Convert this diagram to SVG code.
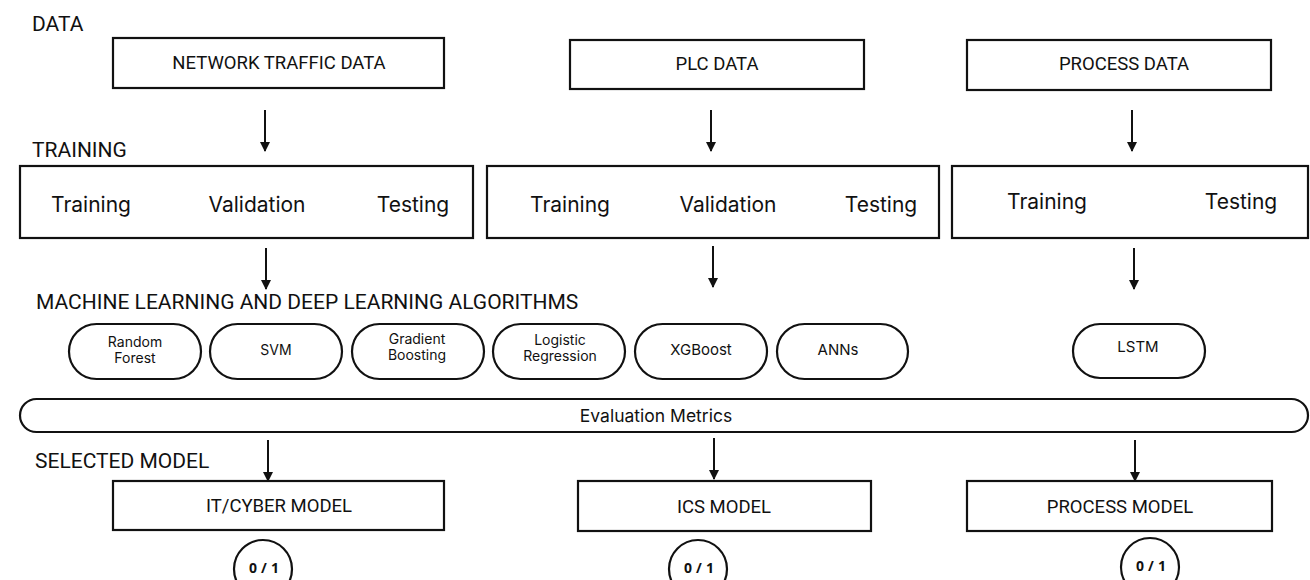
<svg xmlns="http://www.w3.org/2000/svg" width="1310" height="580" viewBox="0 0 1310 580">
<defs>
<marker id="ah" viewBox="0 0 10 10" refX="9" refY="5" markerWidth="10" markerHeight="10" markerUnits="userSpaceOnUse" orient="auto">
<path d="M0,0 L10,5 L0,10 Z" fill="#111"/>
</marker>
</defs>
<style>
.box{fill:#fff;stroke:#111;stroke-width:2.2}
.pill{fill:#fff;stroke:#111;stroke-width:2.2}
.hd{font-family:Roboto,"Liberation Sans",sans-serif;font-size:21px;fill:#111}
.bt{font-family:Roboto,"Liberation Sans",sans-serif;font-size:18.5px;fill:#111;text-anchor:middle}
.tt{font-family:Inter,"Noto Sans",sans-serif;font-size:21px;fill:#111;text-anchor:middle}
.pt{font-family:Inter,"Noto Sans",sans-serif;font-size:14px;fill:#111;text-anchor:middle}
.ct{font-family:"Noto Sans",sans-serif;font-size:14px;font-weight:bold;fill:#111;text-anchor:middle;letter-spacing:4px}
.arr{stroke:#111;stroke-width:2;fill:none;marker-end:url(#ah)}
</style>
<rect width="1310" height="580" fill="#fff"/>
<text class="hd" x="32" y="31">DATA</text>
<text class="hd" x="32" y="157">TRAINING</text>
<text class="hd" x="36" y="309">MACHINE LEARNING AND DEEP LEARNING ALGORITHMS</text>
<text class="hd" x="35" y="468">SELECTED MODEL</text>

<g id="network-data"><rect class="box" x="113" y="38" width="331" height="50"/><text class="bt" x="279" y="69">NETWORK TRAFFIC DATA</text></g>
<g id="plc-data"><rect class="box" x="570" y="40" width="294" height="49"/><text class="bt" x="717" y="70">PLC DATA</text></g>
<g id="process-data"><rect class="box" x="967" y="40" width="304" height="50"/><text class="bt" x="1124" y="70">PROCESS DATA</text></g>

<g id="train-1"><rect class="box" x="20" y="166" width="453" height="72"/><text class="tt" x="91" y="212">Training</text><text class="tt" x="257" y="212">Validation</text><text class="tt" x="413" y="212">Testing</text></g>
<g id="train-2"><rect class="box" x="487" y="166" width="452" height="72"/><text class="tt" x="570" y="212">Training</text><text class="tt" x="728" y="212">Validation</text><text class="tt" x="881" y="212">Testing</text></g>
<g id="train-3"><rect class="box" x="952" y="166" width="356" height="72"/><text class="tt" x="1047" y="209">Training</text><text class="tt" x="1241" y="209">Testing</text></g>

<g id="rf"><rect class="pill" x="69" y="324" width="132" height="55" rx="27.5"/><text class="pt" x="135" y="347">Random</text><text class="pt" x="135" y="363">Forest</text></g>
<g id="svm"><rect class="pill" x="210" y="324" width="132" height="55" rx="27.5"/><text class="pt" x="276" y="355">SVM</text></g>
<g id="gb"><rect class="pill" x="352" y="324" width="132" height="55" rx="27.5"/><text class="pt" x="417" y="344">Gradient</text><text class="pt" x="417" y="360">Boosting</text></g>
<g id="lr"><rect class="pill" x="493" y="324" width="132" height="55" rx="27.5"/><text class="pt" x="560" y="345">Logistic</text><text class="pt" x="560" y="361">Regression</text></g>
<g id="xgb"><rect class="pill" x="635" y="324" width="132" height="55" rx="27.5"/><text class="pt" x="701" y="355" style="font-size:15px">XGBoost</text></g>
<g id="ann"><rect class="pill" x="777" y="324" width="131" height="55" rx="27.5"/><text class="pt" x="838" y="355" style="font-size:15px">ANNs</text></g>
<g id="lstm"><rect class="pill" x="1073" y="324" width="132" height="54" rx="27"/><text class="pt" x="1138" y="352" style="font-size:15px">LSTM</text></g>

<g id="eval"><rect class="pill" x="20" y="399" width="1288" height="33" rx="16.5"/><text class="pt" x="656" y="422" style="font-size:17.5px">Evaluation Metrics</text></g>

<g id="it-model"><rect class="box" x="113" y="481" width="331" height="49"/><text class="bt" x="279" y="512">IT/CYBER MODEL</text></g>
<g id="ics-model"><rect class="box" x="578" y="481" width="293" height="50"/><text class="bt" x="724" y="513">ICS MODEL</text></g>
<g id="process-model"><rect class="box" x="967" y="481" width="305" height="50"/><text class="bt" x="1120" y="513">PROCESS MODEL</text></g>

<g id="out-1"><circle class="box" cx="263" cy="569" r="29"/><text class="ct" x="266" y="573">0/1</text></g>
<g id="out-2"><circle class="box" cx="698" cy="569" r="29"/><text class="ct" x="701" y="573">0/1</text></g>
<g id="out-3"><circle class="box" cx="1150" cy="567" r="29"/><text class="ct" x="1153" y="571">0/1</text></g>

<g id="connectors">
<line class="arr" x1="265" y1="110" x2="265" y2="151"/>
<line class="arr" x1="711" y1="110" x2="711" y2="151"/>
<line class="arr" x1="1132" y1="110" x2="1132" y2="151"/>
<line class="arr" x1="266" y1="248" x2="266" y2="289"/>
<line class="arr" x1="713" y1="246" x2="713" y2="287"/>
<line class="arr" x1="1134" y1="248" x2="1134" y2="289"/>
<line class="arr" x1="268" y1="440" x2="268" y2="481"/>
<line class="arr" x1="714" y1="438" x2="714" y2="479"/>
<line class="arr" x1="1135" y1="440" x2="1135" y2="481"/>
</g>
</svg>
